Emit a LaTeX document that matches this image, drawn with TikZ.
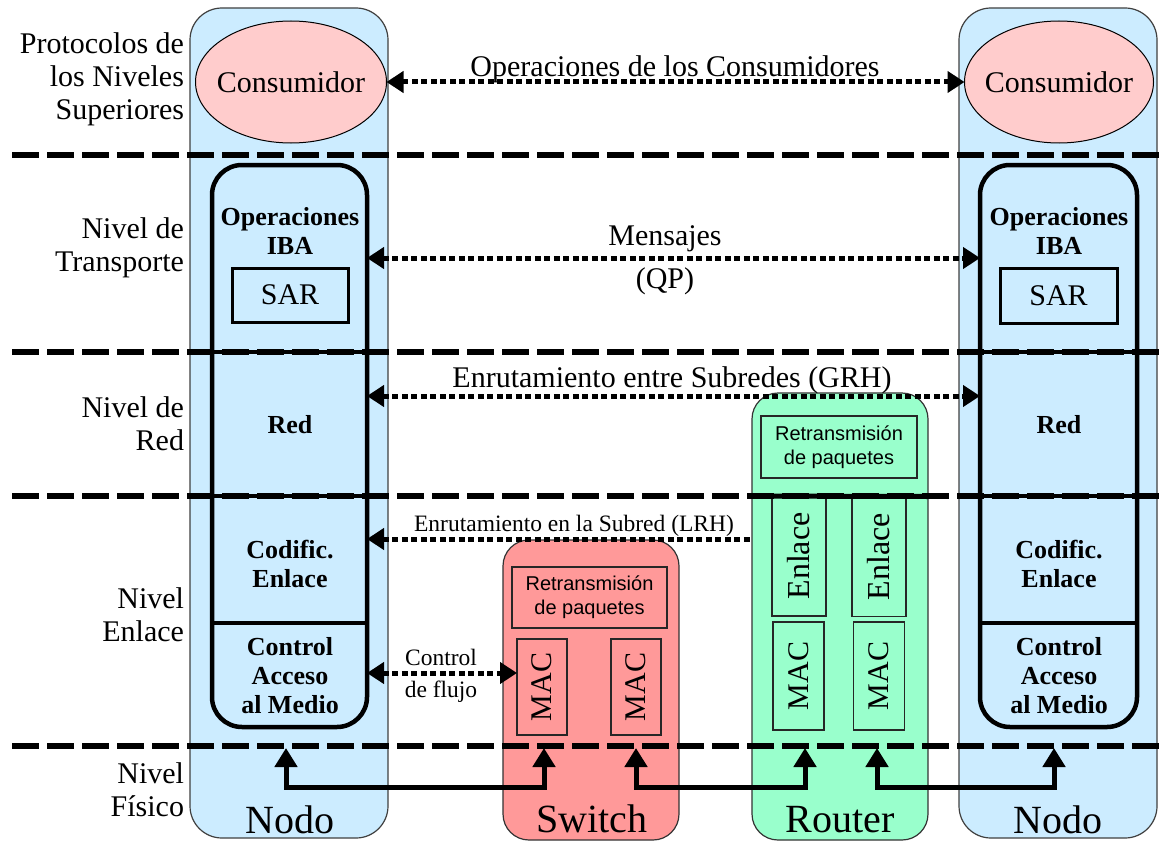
\documentclass[tikz,border=0pt]{standalone}
\usepackage{fontspec}
\setmainfont{Liberation Serif}
\setsansfont{Liberation Sans}
\usetikzlibrary{arrows.meta,shapes.geometric}
\definecolor{nodeblue}{RGB}{204,236,255}
\definecolor{conspink}{RGB}{255,204,204}
\definecolor{switchred}{RGB}{255,153,153}
\definecolor{routergreen}{RGB}{153,255,204}
\begin{document}
\begin{tikzpicture}[x=1pt,y=-1pt,
  every node/.style={inner sep=0pt,outer sep=0pt},
  outerbox/.style={draw=black!75,line width=1.2pt,rounded corners=32pt},
  devbox/.style={draw=black!80,line width=1.2pt,rounded corners=26pt},
  stackbox/.style={draw=black,line width=4.5pt,rounded corners=30pt},
  thinbox/.style={draw=black!85,line width=1.2pt},
  sarbox/.style={draw=black,line width=3pt},
  divider/.style={draw=black,line width=4pt},
  layerline/.style={line width=6pt,dash pattern=on 27pt off 8pt},
  msg/.style={line width=5pt,dash pattern=on 6pt off 3.5pt,
    {Triangle[length=17pt,width=21pt]}-{Triangle[length=17pt,width=21pt]}},
  msgleft/.style={line width=5pt,dash pattern=on 6pt off 3.5pt,
    {Triangle[length=17pt,width=21pt]}-},
  phys/.style={line width=5pt,line join=miter,
    {Triangle[length=19pt,width=22pt]}-{Triangle[length=19pt,width=22pt]}},
  txt/.style={font=\rmfamily\fontsize{30}{33}\selectfont},
  boldtxt/.style={font=\rmfamily\fontsize{26}{29}\selectfont\bfseries,align=center},
  smalltxt/.style={font=\rmfamily\fontsize{23.5}{32}\selectfont},
  sanstxt/.style={font=\sffamily\fontsize{20}{24}\selectfont,align=center},
  bigtxt/.style={font=\rmfamily\fontsize{40}{44}\selectfont},
  linktxt/.style={font=\rmfamily\fontsize{32}{34}\selectfont},
  lvl/.style={txt,align=right,anchor=east}]
\useasboundingbox (0,0) rectangle (1161,840);

% end nodes (blue columns)
\node[outerbox,fill=nodeblue,minimum width=198pt,minimum height=830pt] (nodeL) at (289,423) {};
\node[outerbox,fill=nodeblue,minimum width=198pt,minimum height=830pt] (nodeR) at (1058,423) {};

% consumers
\node[ellipse,draw=black,line width=1pt,fill=conspink,minimum width=191pt,minimum height=122pt] (consL) at (291,82) {};
\node[ellipse,draw=black,line width=1pt,fill=conspink,minimum width=189pt,minimum height=122pt] (consR) at (1059,82) {};
\node[txt] at (consL) {Consumidor};
\node[txt] at (consR) {Consumidor};

% switch
\node[devbox,fill=switchred,minimum width=176pt,minimum height=300pt] (switch) at (591,690) {};
\node[thinbox,minimum width=155pt,minimum height=61pt,sanstxt] (swFwd) at (589.5,597.5) {Retransmisión\\de paquetes};
\node[thinbox,minimum width=50pt,minimum height=96pt] (swMacL) at (542,687) {};
\node[thinbox,minimum width=50pt,minimum height=96pt] (swMacR) at (636,687) {};
\node[txt,rotate=90] at (swMacL) {MAC};
\node[txt,rotate=90] at (swMacR) {MAC};
\node[bigtxt,anchor=base] (swLabel) at (592,832) {Switch};

% router
\node[devbox,fill=routergreen,minimum width=176pt,minimum height=447pt] (router) at (840,616.5) {};
\node[thinbox,minimum width=156pt,minimum height=62pt,sanstxt] (rtFwd) at (839,447) {Retransmisión\\de paquetes};
\node[thinbox,minimum width=54pt,minimum height=120pt] (rtLinkL) at (799,556) {};
\node[thinbox,minimum width=54pt,minimum height=120pt] (rtLinkR) at (879,556.5) {};
\node[thinbox,minimum width=51pt,minimum height=108pt] (rtMacL) at (798.5,676) {};
\node[thinbox,minimum width=51pt,minimum height=108pt] (rtMacR) at (879,676) {};
\node[linktxt,rotate=90] at (rtLinkL) {Enlace};
\node[linktxt,rotate=90] at (rtLinkR) {Enlace};
\node[txt,rotate=90] at (rtMacL) {MAC};
\node[txt,rotate=90] at (rtMacR) {MAC};
\node[bigtxt,anchor=base] (rtLabel) at (840,832) {Router};

% layer separators
\coordinate (sepA) at (12,155);
\coordinate (sepB) at (12,352);
\coordinate (sepC) at (12,496);
\coordinate (sepD) at (12,746);
\coordinate (rightEdge) at (1161,0);
\foreach \s in {sepA,sepB,sepC,sepD}
  \draw[layerline] (\s) -- (rightEdge |- \s);
\draw[line width=5pt] (rtLinkL.north west -| router.west) ++(7,0) coordinate (rtBarL) -- (rtLinkR.north east -| router.east) ++(-6,0) coordinate (rtBarR);

% protocol stacks
\node[stackbox,minimum width=155pt,minimum height=562pt] (stackL) at (289.5,446) {};
\node[stackbox,minimum width=157pt,minimum height=562pt] (stackR) at (1058.5,446) {};
\coordinate (divA) at (0,352);
\coordinate (divB) at (0,496);
\coordinate (divC) at (0,623);
\foreach \d in {divA,divB,divC}{
  \draw[divider] (stackL.west |- \d) -- (stackL.east |- \d);
  \draw[divider] (stackR.west |- \d) -- (stackR.east |- \d);
}
\node[sarbox,minimum width=116pt,minimum height=54pt,txt] (sarL) at (290,295) {SAR};
\node[sarbox,minimum width=117pt,minimum height=55pt,txt] (sarR) at (1058.5,295.5) {SAR};
\node[boldtxt] at (290,231) {Operaciones\\IBA};
\node[boldtxt] at (1059,231) {Operaciones\\IBA};
\node[boldtxt] at (290,425) {Red};
\node[boldtxt] at (1059,425) {Red};
\node[boldtxt] at (290,564) {Codific.\\Enlace};
\node[boldtxt] at (1059,564) {Codific.\\Enlace};
\node[boldtxt] at (290,676) {Control\\Acceso\\al Medio};
\node[boldtxt] at (1059,676) {Control\\Acceso\\al Medio};
\node[bigtxt,anchor=base] (nodeLLabel) at (290,833) {Nodo};
\node[bigtxt,anchor=base] (nodeRLabel) at (1058,833) {Nodo};

% level names
\node[lvl] at (184,79) {Protocolos de\\los Niveles\\Superiores};
\node[lvl] at (184,248) {Nivel de\\Transporte};
\node[lvl] at (184,424) {Nivel de\\Red};
\node[lvl] at (184,615) {Nivel\\Enlace};
\node[lvl] at (184,790) {Nivel\\Físico};

% peer communication
\coordinate (yMsg) at (0,258);
\coordinate (yGrh) at (0,396);
\coordinate (yLrh) at (0,539);
\coordinate (yFlow) at (0,673);
\draw[msg] (consL.east) -- (consR.west);
\node[txt,anchor=base] at (675,77) {Operaciones de los Consumidores};
\draw[msg] (stackL.east |- yMsg) -- (stackR.west |- yMsg);
\node[txt,anchor=base] at (665,245) {Mensajes};
\node[txt,anchor=base] at (665,288) {(QP)};
\draw[msg] (stackL.east |- yGrh) -- (stackR.west |- yGrh);
\node[txt,anchor=base] at (672,387) {Enrutamiento entre Subredes (GRH)};
\draw[msgleft] (stackL.east |- yLrh) -- (router.west |- yLrh);
\node[smalltxt,anchor=base] at (574,531) {Enrutamiento en la Subred (LRH)};
\draw[msg] (stackL.east |- yFlow) -- (swMacL.west |- yFlow);
\node[smalltxt,anchor=base] at (441,665) {Control};
\node[smalltxt,anchor=base] at (441,697) {de flujo};

% physical links
\coordinate (phNodeL) at (286,748);
\coordinate (phSwL) at (544,748);
\coordinate (phSwR) at (636,748);
\coordinate (phRtL) at (805,748);
\coordinate (phRtR) at (877,748);
\coordinate (phNodeR) at (1054,748);
\draw[phys] (phNodeL) -- ++(0,39) -| (phSwL);
\draw[phys] (phSwR) -- ++(0,39) -| (phRtL);
\draw[phys] (phRtR) -- ++(0,39) -| (phNodeR);
\end{tikzpicture}
\end{document}
